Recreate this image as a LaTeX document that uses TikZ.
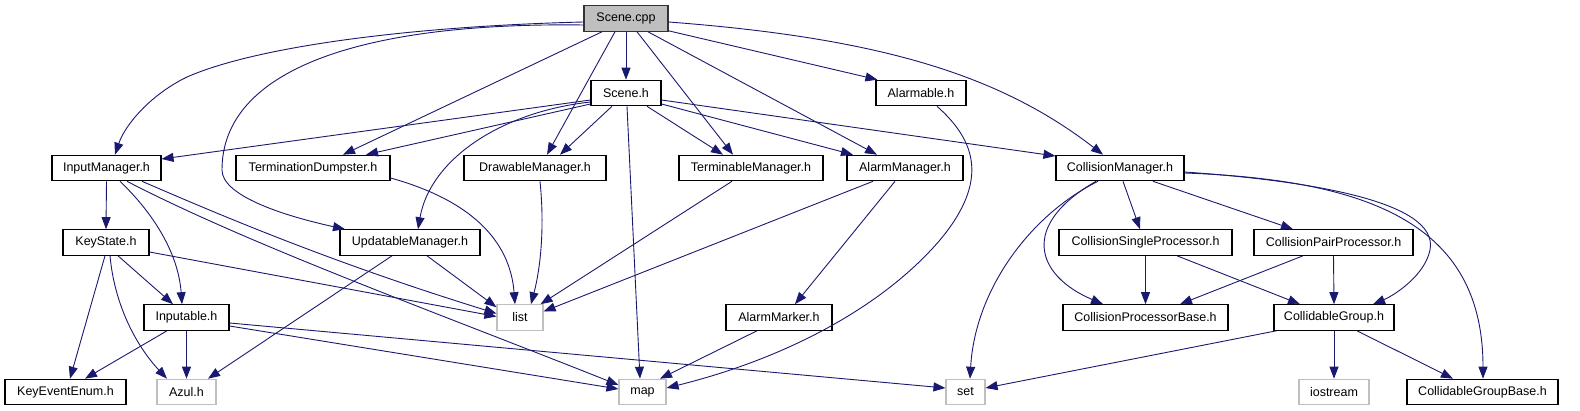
\documentclass[tikz,border=0pt]{standalone}
\usepackage{fontspec}
\setmainfont{Liberation Sans}
\usetikzlibrary{arrows.meta,calc}
\definecolor{edgec}{HTML}{191970}
\definecolor{grayb}{HTML}{BFBFBF}
\begin{document}
\begin{tikzpicture}[x=1pt,y=-1pt,
  box/.style={draw=black, line width=1.1pt, fill=white, inner sep=0pt, font=\fontsize{12.5}{15}\selectfont, minimum height=25.5pt},
  sysbox/.style={box, draw=grayb},
  srcbox/.style={box, fill=grayb, draw=black!80},
  edge/.style={draw=edgec, line width=0.9pt, -{Triangle[length=12pt,width=9pt]}}]
\useasboundingbox (0,0) rectangle (1580,411);
% nodes
\node[srcbox, minimum width=84pt] (scenecpp) at (626,18.5) {Scene.cpp};
\node[box, minimum width=70pt] (sceneh) at (626,93) {Scene.h};
\node[box, minimum width=90pt] (alarmable) at (921,93) {Alarmable.h};
\node[box, minimum width=109pt] (im) at (106.5,168) {InputManager.h};
\node[box, minimum width=154pt] (td) at (313,168) {TerminationDumpster.h};
\node[box, minimum width=142pt] (dm) at (535,168) {DrawableManager.h};
\node[box, minimum width=144pt] (tm) at (751,168) {TerminableManager.h};
\node[box, minimum width=116pt] (am) at (905,168) {AlarmManager.h};
\node[box, minimum width=128pt] (cm) at (1120,168) {CollisionManager.h};
\node[box, minimum width=86pt] (ks) at (106,242.5) {KeyState.h};
\node[box, minimum width=140pt] (upd) at (410,242.5) {UpdatableManager.h};
\node[box, minimum width=173pt] (csp) at (1145.5,242.5) {CollisionSingleProcessor.h};
\node[box, minimum width=159pt] (cpp) at (1333.5,242.5) {CollisionPairProcessor.h};
\node[box, minimum width=85pt] (inputable) at (186.5,317.5) {Inputable.h};
\node[sysbox, minimum width=46pt] (list) at (520,317.5) {list};
\node[box, minimum width=106pt] (amk) at (779,317.5) {AlarmMarker.h};
\node[box, minimum width=165pt] (cpb) at (1145.5,317.5) {CollisionProcessorBase.h};
\node[box, minimum width=120pt] (cg) at (1334,317.5) {CollidableGroup.h};
\node[box, minimum width=121pt] (kee) at (65.5,392) {KeyEventEnum.h};
\node[sysbox, minimum width=59pt] (azul) at (186.5,392) {Azul.h};
\node[sysbox, minimum width=47pt] (map) at (642.5,392) {map};
\node[sysbox, minimum width=39pt] (set) at (965.5,392) {set};
\node[sysbox, minimum width=70pt] (ios) at (1334,392) {iostream};
\node[box, minimum width=151pt] (cgb) at (1482.5,392) {CollidableGroupBase.h};
% Scene.cpp
\draw[edge] ($(scenecpp.west)+(0,3.5)$) .. controls (420,26) and (260,45) .. (187,77) .. controls (150,95) and (125,125) .. ($(im.north)+(8.5,0)$);
\draw[edge] ($(scenecpp.south)+(-24,0)$) -- ($(td.north)+(30,0)$);
\draw[edge] ($(scenecpp.west)+(0,6.5)$) .. controls (360,22) and (222,70) .. (222,170) .. controls (222,195) and (280,215) .. ($(upd.north)+(-65,0)$);
\draw[edge] ($(scenecpp.south)+(-11,0)$) -- ($(dm.north)+(12,0)$);
\draw[edge] (scenecpp.south) -- (sceneh.north);
\draw[edge] ($(scenecpp.south)+(11,0)$) -- ($(tm.north)+(-18,0)$);
\draw[edge] ($(scenecpp.south)+(22,0)$) -- ($(am.north)+(-28,0)$);
\draw[edge] ($(scenecpp.south east)+(0,-1)$) -- ($(alarmable.north west)+(2,0)$);
\draw[edge] ($(scenecpp.east)+(0,3.5)$) .. controls (880,38) and (1000,75) .. ($(cm.north)+(-17,0)$);
% Scene.h
\draw[edge] ($(sceneh.west)+(0,7)$) -- ($(im.east)+(0,-9)$);
\draw[edge] ($(sceneh.west)+(0,11)$) -- ($(td.north)+(53,0)$);
\draw[edge] ($(sceneh.west)+(0,9)$) .. controls (500,112) and (430,160) .. ($(upd.north)+(8,0)$);
\draw[edge] ($(sceneh.south)+(-14,0)$) -- ($(dm.north)+(25,0)$);
\draw[edge] ($(sceneh.south)+(1,0)$) -- ($(map.north)+(-2.5,0)$);
\draw[edge] ($(sceneh.south)+(21,0)$) -- ($(tm.north)+(-28,0)$);
\draw[edge] ($(sceneh.east)+(0,11)$) -- ($(am.north)+(-52,0)$);
\draw[edge] ($(sceneh.east)+(0,7)$) -- ($(cm.west)+(0,-12)$);
% Alarmable
\draw[edge] ($(alarmable.south)+(16,0)$) .. controls (975,140) and (990,180) .. (940,240) .. controls (880,310) and (780,360) .. ($(map.east)+(0,-4)$);
% InputManager
\draw[edge] (im.south) -- (ks.north);
\draw[edge] ($(im.south)+(13.5,0)$) .. controls (150,210) and (178,250) .. ($(inputable.north)+(-4.5,0)$);
\draw[edge] ($(im.south)+(20.5,0)$) .. controls (250,245) and (430,310) .. ($(map.west)+(0,-7)$);
\draw[edge] ($(im.south)+(35.5,0)$) .. controls (220,215) and (330,262) .. ($(list.west)+(0,-4)$);
% managers to list
\draw[edge] ($(td.east)+(0,10)$) .. controls (470,200) and (510,240) .. ($(list.north)+(-5,0)$);
\draw[edge] ($(dm.south)+(5,0)$) .. controls (545,230) and (540,270) .. ($(list.north)+(11,0)$);
\draw[edge] ($(tm.south)+(-19,0)$) -- ($(list.north east)+(-3,0)$);
\draw[edge] ($(am.south)+(-32,0)$) -- ($(list.east)+(0,-6)$);
\draw[edge] ($(am.south)+(-10,0)$) -- ($(amk.north)+(16,0)$);
\draw[edge] ($(upd.south)+(-18,0)$) -- ($(azul.north)+(21.5,0)$);
\draw[edge] ($(upd.south)+(17,0)$) -- ($(list.north west)+(0,3)$);
% KeyState
\draw[edge] ($(ks.south)+(-1,0)$) -- ($(kee.north)+(4.5,0)$);
\draw[edge] ($(ks.south)+(4,0)$) .. controls (115,310) and (140,350) .. ($(azul.north)+(-19.5,0)$);
\draw[edge] ($(ks.south)+(12,0)$) -- ($(inputable.north)+(-13.5,0)$);
\draw[edge] ($(ks.east)+(0,9.5)$) -- ($(list.west)+(0,-1)$);
% Inputable
\draw[edge] ($(inputable.south)+(-19.5,0)$) -- ($(kee.north)+(19.5,0)$);
\draw[edge] (inputable.south) -- (azul.north);
\draw[edge] ($(inputable.east)+(0,8.5)$) -- ($(map.west)+(0,-3)$);
\draw[edge] ($(inputable.east)+(0,5.5)$) -- ($(set.west)+(0,-4)$);
% AlarmMarker
\draw[edge] ($(amk.south)+(-22,0)$) -- ($(map.north)+(17.5,0)$);
% CollisionManager
\draw[edge] ($(cm.south)+(3,0)$) -- ($(csp.north)+(-5.5,0)$);
\draw[edge] ($(cm.south)+(33,0)$) -- ($(cpp.north)+(-40.5,0)$);
\draw[edge] ($(cm.south)+(-22,0)$) .. controls (1030,215) and (975,290) .. ($(set.north)+(4.5,0)$);
\draw[edge] ($(cm.south)+(-24,0)$) .. controls (1020,225) and (1035,275) .. ($(cpb.north)+(-42.5,0)$);
\draw[edge] ($(cm.east)+(0,4)$) .. controls (1300,180) and (1440,200) .. (1430,250) .. controls (1425,275) and (1395,295) .. ($(cg.north)+(39,0)$);
\draw[edge] ($(cm.east)+(0,5)$) .. controls (1380,180) and (1483,230) .. ($(cgb.north)+(0.5,0)$);
% processors
\draw[edge] (csp.south) -- (cpb.north);
\draw[edge] ($(csp.south)+(31.5,0)$) -- ($(cg.north)+(-34,0)$);
\draw[edge] ($(cpp.south)+(-30.5,0)$) -- ($(cpb.north)+(34.5,0)$);
\draw[edge] (cpp.south) -- (cg.north);
% CollidableGroup
\draw[edge] ($(cg.south west)+(3,0)$) -- ($(set.east)+(0,-4)$);
\draw[edge] (cg.south) -- (ios.north);
\draw[edge] ($(cg.south)+(23,0)$) -- ($(cgb.north)+(-29.5,0)$);
\end{tikzpicture}
\end{document}
